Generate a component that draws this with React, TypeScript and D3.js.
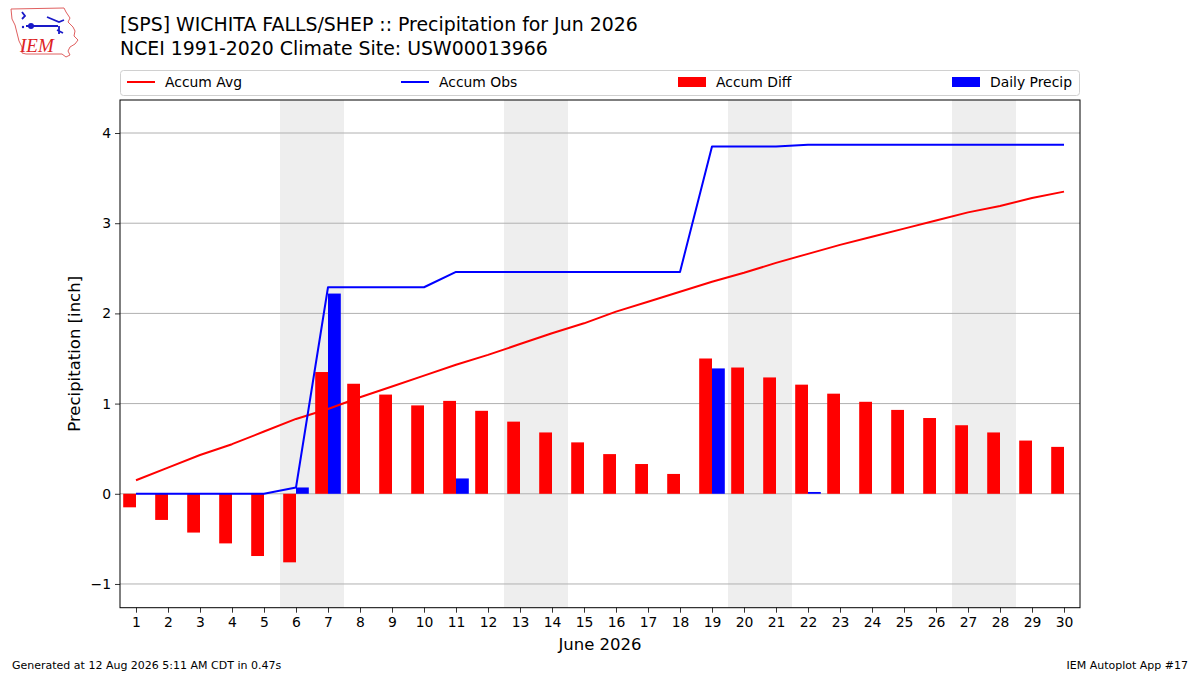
import * as React from 'react'
import * as d3 from 'd3'

const days = d3.range(1, 31)

// accumulated climatology (inch)
const accumAvg = [0.15, 0.29, 0.43, 0.55, 0.69, 0.83, 0.94, 1.07, 1.19, 1.31,
    1.43, 1.54, 1.66, 1.78, 1.89, 2.02, 2.13, 2.24, 2.35, 2.45,
    2.56, 2.66, 2.76, 2.85, 2.94, 3.03, 3.12, 3.19, 3.28, 3.35]

// accumulated observed (inch)
const accumObs = [0, 0, 0, 0, 0, 0.07, 2.29, 2.29, 2.29, 2.29,
    2.46, 2.46, 2.46, 2.46, 2.46, 2.46, 2.46, 2.46, 3.85, 3.85,
    3.85, 3.87, 3.87, 3.87, 3.87, 3.87, 3.87, 3.87, 3.87, 3.87]

// observed minus climatology (inch)
const accumDiff = [-0.15, -0.29, -0.43, -0.55, -0.69, -0.76, 1.35, 1.22, 1.10, 0.98,
    1.03, 0.92, 0.80, 0.68, 0.57, 0.44, 0.33, 0.22, 1.50, 1.40,
    1.29, 1.21, 1.11, 1.02, 0.93, 0.84, 0.76, 0.68, 0.59, 0.52]

// daily precipitation (inch)
const dailyPrecip = [0, 0, 0, 0, 0, 0.07, 2.22, 0, 0, 0,
    0.17, 0, 0, 0, 0, 0, 0, 0, 1.39, 0,
    0, 0.02, 0, 0, 0, 0, 0, 0, 0, 0]

// weekend day pairs (Sat, Sun)
const weekends = [[6, 7], [13, 14], [20, 21], [27, 28]]

const yTicks = [-1, 0, 1, 2, 3, 4]

const legendItems = [
    { label: 'Accum Avg', color: 'red', kind: 'line' },
    { label: 'Accum Obs', color: 'blue', kind: 'line' },
    { label: 'Accum Diff', color: 'red', kind: 'bar' },
    { label: 'Daily Precip', color: 'blue', kind: 'bar' },
]
const legendX = [7, 281, 558, 832]

const font = '"DejaVu Sans", sans-serif'

const W = 1200
const H = 675
const margin = { left: 120, top: 100, right: 120, bottom: 67 }

function Logo() {
    return (
        <g>
            <path d="M11,9 L64,8 L66,12 L70,18 L68,22 L73,27 L75,31 L74,36 L78,40 L75,44 L70,47 L68,51 L70,55 L66,57 L62,54 L26,54 L22,53 L22,47 L19,41 L17,33 L15,25 L12,19 Z"
                fill='none' stroke='#e06060' strokeWidth={1} />
            <path d="M22,12 L25,16 L22,19 M26,26 L58,26 M47,17 L59,22 L64,20 M59,26 L59,34 M57,30 L63,33"
                fill='none' stroke='#1a1ac8' strokeWidth={1.8} />
            <circle cx={31} cy={26} r={3} fill='#1a1ac8' />
            <circle cx={23} cy={27} r={1.2} fill='#1a1ac8' />
            <text x={20} y={52} fontFamily='"Liberation Serif", serif' fontStyle='italic'
                fontSize={19} fill='#d22'>IEM</text>
        </g>
    )
}

export default function App() {
    const axisRef = React.useRef<SVGGElement | null>(null)

    const width = W - margin.left - margin.right
    const height = H - margin.top - margin.bottom - 0.3

    const x = d3.scaleLinear().domain([0.5, 30.5]).range([0, width])
    const y = d3.scaleLinear().domain([-1.263, 4.366]).range([height, 0])
    const barW = x(0.4) - x(0)

    const line = d3.line<number>()
        .x((d, i) => x(days[i]))
        .y(d => y(d))

    React.useEffect(() => {
        if (!axisRef.current)
            return
        const g = d3.select(axisRef.current)
        g.selectAll('*').remove()

        const xa = g.append('g')
            .attr('transform', `translate(0,${height})`)
            .call(d3.axisBottom(x).tickValues(days).tickFormat(d3.format('d')).tickSize(5).tickPadding(4))
        const ya = g.append('g')
            .call(d3.axisLeft(y).tickValues(yTicks).tickFormat(d => (+d < 0 ? '\u2212' + Math.abs(+d) : String(d))).tickSize(5).tickPadding(4))

        for (const a of [xa, ya]) {
            a.select('.domain').remove()
            a.selectAll('text')
                .attr('font-family', font)
                .attr('font-size', 13.9)
                .attr('fill', '#000')
            a.selectAll('line').attr('stroke', '#000').attr('stroke-width', 0.8)
        }
        xa.selectAll('text').attr('dy', '0.75em')
    }, [])

    const legendW = width

    return (
        <svg width={W} height={H} style={{ position: 'absolute', left: 0, top: 0, background: '#fff' }}>
            <rect width={W} height={H} fill='#fff' />
            <Logo />
            <text x={120} y={31} fontFamily={font} fontSize={18.9} fill='#000'>
                [SPS] WICHITA FALLS/SHEP :: Precipitation for Jun 2026
            </text>
            <text x={120} y={55} fontFamily={font} fontSize={18.9} fill='#000'>
                NCEI 1991-2020 Climate Site: USW00013966
            </text>

            {/* legend */}
            <g transform={`translate(${margin.left},70)`}>
                <rect x={0.5} y={0.5} width={legendW - 1} height={25} rx={3}
                    fill='#fff' stroke='#d0d0d0' strokeWidth={1} />
                {legendItems.map((item, i) => (
                    <g key={item.label} transform={`translate(${legendX[i]},0)`}>
                        {item.kind === 'line'
                            ? <line x1={0} x2={28} y1={12} y2={12} stroke={item.color} strokeWidth={2} />
                            : <rect x={0} y={7} width={28} height={10} fill={item.color} />}
                        <text x={38} y={17} fontFamily={font} fontSize={13.9} fill='#000'>{item.label}</text>
                    </g>
                ))}
            </g>

            <g transform={`translate(${margin.left},${margin.top})`}>
                {weekends.map(([a, b]) => (
                    <rect key={a} x={x(a - 0.5)} y={0} width={x(b + 0.5) - x(a - 0.5)} height={height}
                        fill='#eeeeee' />
                ))}
                {yTicks.map(t => (
                    <line key={t} x1={0} x2={width} y1={y(t)} y2={y(t)} stroke='#b0b0b0' strokeWidth={1} />
                ))}

                {accumDiff.map((v, i) => (
                    <rect key={'d' + i} x={x(days[i]) - barW} width={barW}
                        y={Math.min(y(v), y(0))} height={Math.abs(y(v) - y(0))} fill='red' />
                ))}
                {dailyPrecip.map((v, i) => v > 0 ? (
                    <rect key={'p' + i} x={x(days[i])} width={barW}
                        y={y(v)} height={y(0) - y(v)} fill='blue' />
                ) : null)}

                <path d={line(accumAvg) || ''} fill='none' stroke='red' strokeWidth={2} strokeLinejoin='round' />
                <path d={line(accumObs) || ''} fill='none' stroke='blue' strokeWidth={2} strokeLinejoin='round' />

                <rect x={0} y={0} width={width} height={height} fill='none' stroke='#000' strokeWidth={1} />
                <g ref={axisRef} />

                <text x={width / 2} y={height + 42} textAnchor='middle' fontFamily={font} fontSize={16.5} fill='#000'>
                    June 2026
                </text>
                <text transform={`translate(-40,${height / 2}) rotate(-90)`} textAnchor='middle'
                    fontFamily={font} fontSize={16.5} fill='#000'>
                    Precipitation [inch]
                </text>
            </g>

            <text x={12} y={669} fontFamily={font} fontSize={11} fill='#000'>
                Generated at 12 Aug 2026 5:11 AM CDT in 0.47s
            </text>
            <text x={1188} y={669} textAnchor='end' fontFamily={font} fontSize={11} fill='#000'>
                IEM Autoplot App #17
            </text>
        </svg>
    )
}
